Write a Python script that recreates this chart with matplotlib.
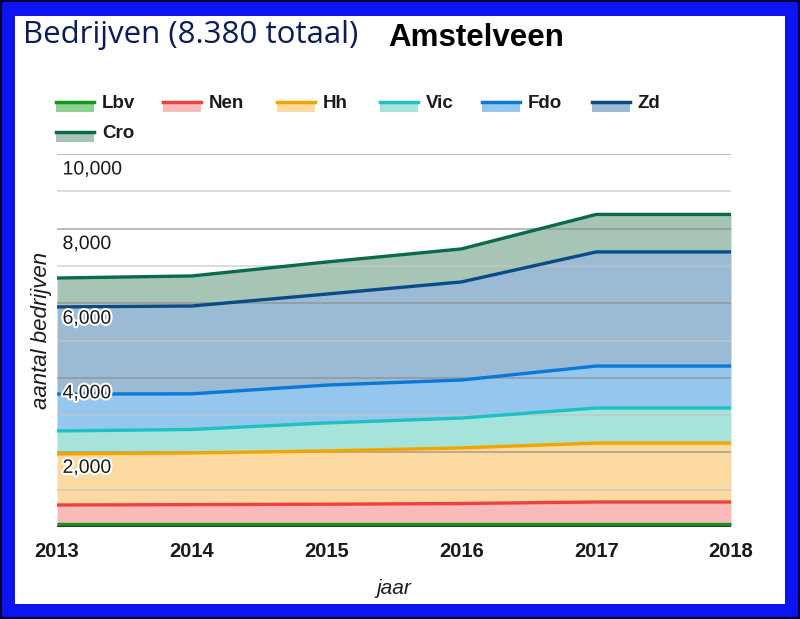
import numpy as np
import matplotlib
matplotlib.use("Agg")
import matplotlib.pyplot as plt
import matplotlib.patheffects as pe
from matplotlib.patches import Rectangle
from matplotlib.lines import Line2D

# gegevens
years = [2013, 2014, 2015, 2016, 2017, 2018]
names = ["Lbv", "Nen", "Hh", "Vic", "Fdo", "Zd", "Cro"]
lbv = [70, 70, 70, 70, 70, 70]
nen = [520, 530, 540, 560, 600, 600]
hh = [1370, 1385, 1430, 1490, 1580, 1580]
vic = [615, 630, 750, 800, 940, 940]
fdo = [990, 955, 1015, 1020, 1125, 1125]
zd = [2335, 2355, 2440, 2630, 3060, 3060]
cro = [775, 805, 860, 885, 1005, 1005]
ytick_vals = [2000, 4000, 6000, 8000, 10000]

line_cols = ["#109618", "#ee4040", "#f2a500", "#1cc2c2", "#0a78d8", "#0a4a88", "#0b6a4a"]
fill_cols = ["#8fcf8f", "#fbbaba", "#fcd9a0", "#a6e3da", "#94c6ee", "#9bbbd4", "#a7c5b5"]

W, H = 800, 619


def fx(px):
    return px / W


def fy(py):
    return 1 - py / H


fig = plt.figure(figsize=(8, 6.19), dpi=100)
fig.patch.set_facecolor("#0c14f2")
fig.add_artist(Rectangle((0, 0), 1, 1, transform=fig.transFigure, facecolor="none",
                         edgecolor="#00003a", lw=3, zorder=-2))
fig.add_artist(Rectangle((fx(15), fy(604)), fx(785) - fx(15), fy(16) - fy(604),
                         transform=fig.transFigure, facecolor="white", edgecolor="none",
                         zorder=-2))

# titel
fig.text(fx(23), fy(35), "Bedrijven (8.380 totaal)", fontsize=22.5, color="#0b1a5c",
         family="Open Sans", va="center", ha="left")
fig.text(fx(388), fy(38), "Amstelveen", fontsize=22.5, color="black", weight="bold",
         family="Liberation Sans", va="center", ha="left")

ax = fig.add_axes([fx(57), fy(527), fx(731) - fx(57), fy(154) - fy(527)])
ax.set_xlim(2013, 2018)
ax.set_ylim(0, 10000)
ax.patch.set_alpha(0)

data = np.array([lbv, nen, hh, vic, fdo, zd, cro])
cum = np.cumsum(data, axis=0)
bottom = np.zeros(len(years))
for i, name in enumerate(names):
    ax.fill_between(years, bottom, cum[i], color=fill_cols[i], lw=0, zorder=1)
    bottom = cum[i]

# rasterlijnen
for v in range(1000, 10001, 1000):
    c = "#8c8c8c" if v % 2000 == 0 else "#c4c4c4"
    ax.axhline(v, color=c, lw=1.2, alpha=0.7, zorder=2)

for i, name in enumerate(names):
    ax.plot(years, cum[i], color=line_cols[i], lw=2.4, zorder=3, clip_on=False,
            solid_capstyle="butt")
ax.axhline(0, color="#333333", lw=1.5, zorder=4)

for v in ytick_vals:
    ax.annotate(f"{v:,}", (2013, v), xytext=(4, -11.5), textcoords="offset points",
                fontsize=14, color="#1a1a1a", family="Liberation Sans", va="center",
                ha="left", zorder=5,
                path_effects=[pe.withStroke(linewidth=3, foreground="white")])

for s in ax.spines.values():
    s.set_visible(False)
ax.set_yticks([])
ax.set_xticks(years)
ax.set_xticklabels([str(y) for y in years], fontsize=14.5, weight="bold",
                   family="Liberation Sans", color="#1a1a1a")
ax.tick_params(axis="x", length=0, pad=11)

ax.set_xlabel("jaar", fontsize=15, style="italic", family="Liberation Sans",
              color="#1a1a1a", labelpad=13)
fig.text(fx(42), fy(330), "aantal bedrijven", fontsize=16, style="italic",
         family="Liberation Sans", color="#1a1a1a", rotation=90, va="center", ha="center")

# legenda
legend_pos = [(56, 102), (163, 102), (277, 102), (380, 102), (482, 102), (592, 102), (56, 132)]
for i, name in enumerate(names):
    x0, y0 = legend_pos[i]
    fig.add_artist(Rectangle((fx(x0), fy(y0 + 10)), fx(38), fy(0) - fy(9),
                             transform=fig.transFigure, facecolor=fill_cols[i],
                             edgecolor="none"))
    fig.add_artist(Line2D([fx(x0), fx(x0 + 38)], [fy(y0), fy(y0)],
                          transform=fig.transFigure, color=line_cols[i], lw=2.5))
    fig.text(fx(x0 + 46), fy(y0 + 1), name, fontsize=13.5, weight="bold",
             family="Liberation Sans", color="#1a1a1a", va="center", ha="left")

plt.savefig("out.png", dpi=100, facecolor=fig.get_facecolor())
